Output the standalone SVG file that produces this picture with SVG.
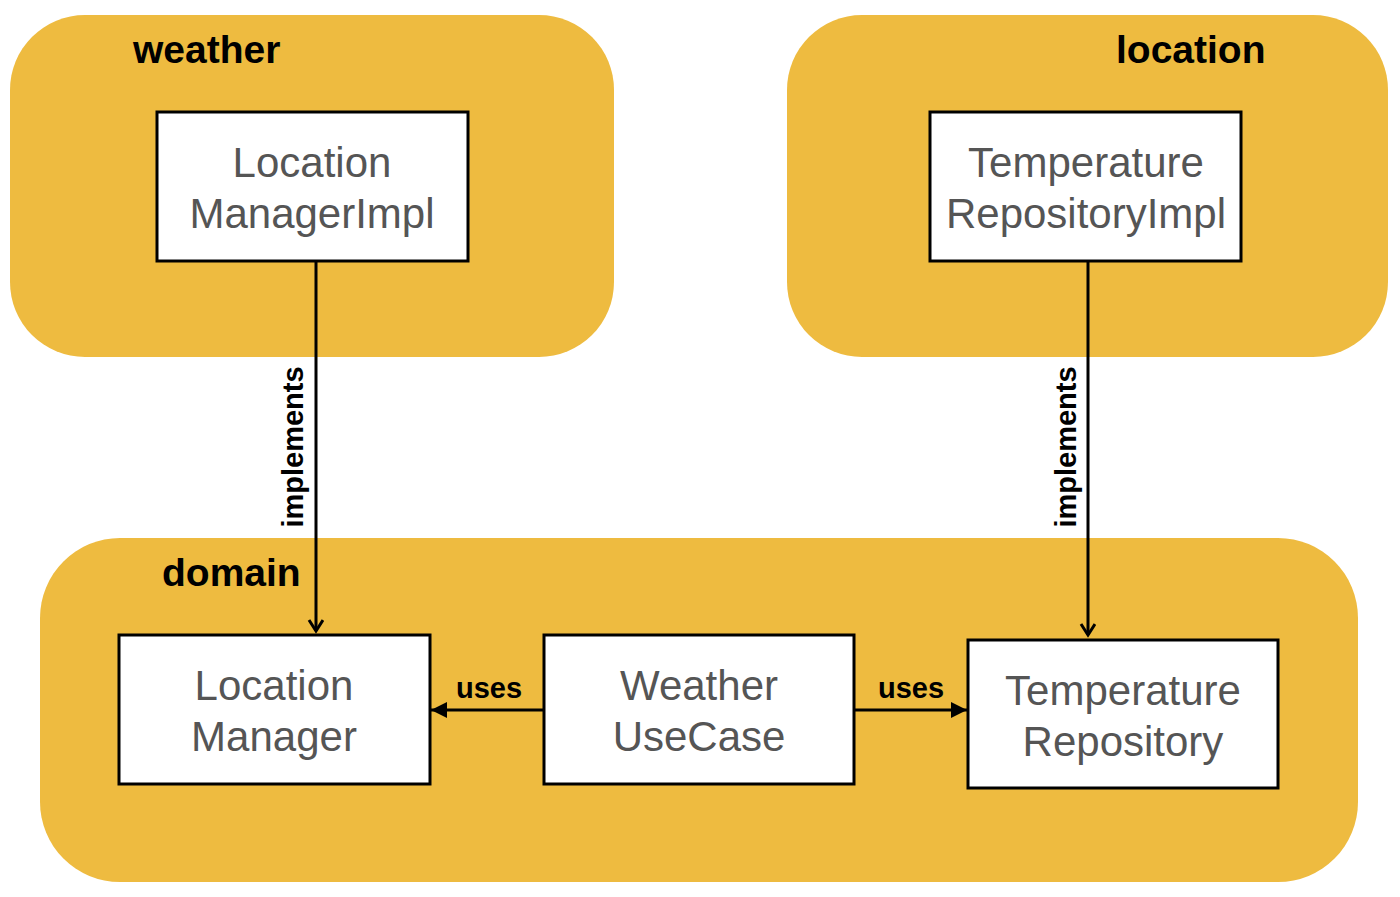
<svg xmlns="http://www.w3.org/2000/svg" width="1400" height="897" viewBox="0 0 1400 897">
<style>
.pkg{fill:#EEBB40;}
.box{fill:#fff;stroke:#000;stroke-width:3;}
.title{font-family:"Liberation Sans",Arial,sans-serif;font-size:39px;font-weight:bold;fill:#000;}
.lbl{font-family:"Liberation Sans",Arial,sans-serif;font-size:42px;fill:#555;text-anchor:middle;}
.edge{font-family:"Liberation Sans",Arial,sans-serif;font-size:29px;font-weight:bold;fill:#000;text-anchor:middle;}
.ln{stroke:#000;stroke-width:3;fill:none;}
</style>
<defs>
<marker id="open" markerWidth="20" markerHeight="20" refX="12" refY="8" orient="auto" markerUnits="userSpaceOnUse">
<path d="M1,1 L12,8 L1,15" fill="none" stroke="#000" stroke-width="3"/>
</marker>
<marker id="filled" markerWidth="20" markerHeight="20" refX="16" refY="8" orient="auto" markerUnits="userSpaceOnUse">
<path d="M0,0 L16,8 L0,16 Z" fill="#000"/>
</marker>
</defs>
<rect width="1400" height="897" fill="#fff"/>
<g id="weather">
<rect class="pkg" x="10" y="15" width="604" height="342" rx="75"/>
<text class="title" x="133" y="63">weather</text>
</g>
<g id="location">
<rect class="pkg" x="787" y="15" width="601" height="342" rx="75"/>
<text class="title" x="1116" y="63">location</text>
</g>
<g id="domain">
<rect class="pkg" x="40" y="538" width="1318" height="344" rx="80"/>
<text class="title" x="162" y="586">domain</text>
</g>
<g id="LocationManagerImpl">
<rect class="box" x="157" y="112" width="311" height="149"/>
<text class="lbl" x="312" y="177">Location</text>
<text class="lbl" x="312" y="228">ManagerImpl</text>
</g>
<g id="TemperatureRepositoryImpl">
<rect class="box" x="930" y="112" width="311" height="149"/>
<text class="lbl" x="1086" y="177">Temperature</text>
<text class="lbl" x="1086" y="228">RepositoryImpl</text>
</g>
<g id="LocationManager">
<rect class="box" x="119" y="635" width="311" height="149"/>
<text class="lbl" x="274" y="700">Location</text>
<text class="lbl" x="274" y="751">Manager</text>
</g>
<g id="WeatherUseCase">
<rect class="box" x="544" y="635" width="310" height="149"/>
<text class="lbl" x="699" y="700">Weather</text>
<text class="lbl" x="699" y="751">UseCase</text>
</g>
<g id="TemperatureRepository">
<rect class="box" x="968" y="640" width="310" height="148"/>
<text class="lbl" x="1123" y="705">Temperature</text>
<text class="lbl" x="1123" y="756">Repository</text>
</g>
<g id="connectors">
<line class="ln" x1="316" y1="262" x2="316" y2="631" marker-end="url(#open)"/>
<line class="ln" x1="1088" y1="262" x2="1088" y2="635" marker-end="url(#open)"/>
<line class="ln" x1="543" y1="710" x2="431" y2="710" marker-end="url(#filled)"/>
<line class="ln" x1="855" y1="710" x2="967" y2="710" marker-end="url(#filled)"/>
<text class="edge" transform="translate(303,447) rotate(-90)">implements</text>
<text class="edge" transform="translate(1076,447) rotate(-90)">implements</text>
<text class="edge" x="489" y="698">uses</text>
<text class="edge" x="911" y="698">uses</text>
</g>
</svg>
